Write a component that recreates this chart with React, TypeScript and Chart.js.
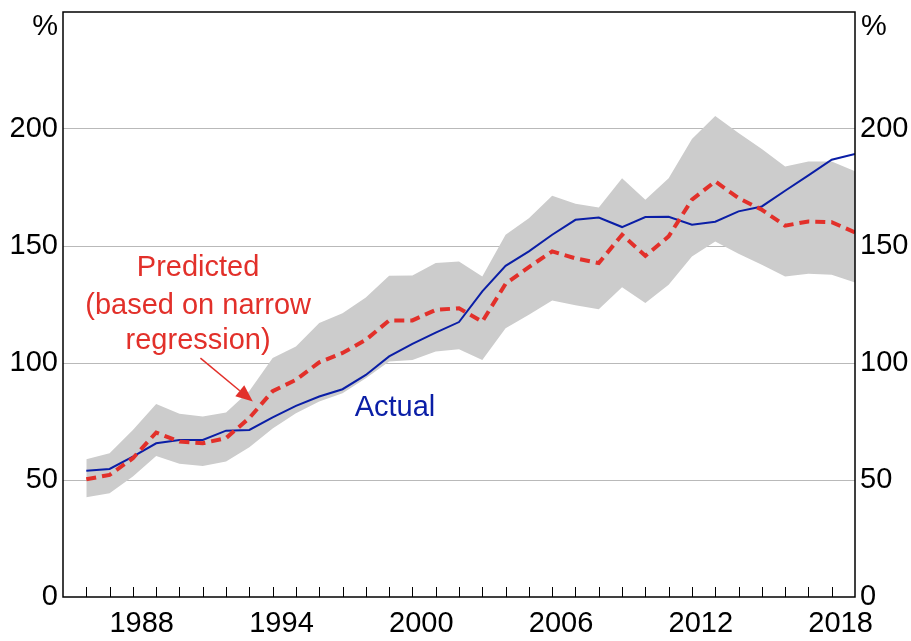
import React, { useEffect, useRef } from 'react';
import { Chart, registerables } from 'chart.js';

Chart.register(...registerables);

// End-of-year observations, 1985–2018
const years = [
  1985, 1986, 1987, 1988, 1989, 1990, 1991, 1992, 1993, 1994,
  1995, 1996, 1997, 1998, 1999, 2000, 2001, 2002, 2003, 2004,
  2005, 2006, 2007, 2008, 2009, 2010, 2011, 2012, 2013, 2014,
  2015, 2016, 2017, 2018,
];

const actual = [
  54.0, 54.7, 60.0, 65.7, 67.1, 67.1, 71.1, 71.4, 76.8, 81.7,
  85.7, 88.8, 94.9, 102.8, 108.2, 113.0, 117.5, 130.6, 141.5, 147.7,
  154.8, 161.2, 162.2, 158.1, 162.4, 162.5, 159.1, 160.4, 164.8, 166.9,
  173.6, 180.2, 186.9, 189.3,
];

const predicted = [
  50.3, 52.2, 59.3, 70.3, 66.4, 65.7, 67.9, 76.5, 88.0, 92.8,
  100.3, 104.3, 109.9, 118.2, 118.2, 122.7, 123.4, 117.7, 133.8, 141.0,
  147.7, 144.7, 142.7, 154.8, 145.8, 154.1, 169.8, 177.6, 170.5, 165.5,
  158.7, 160.5, 160.2, 155.8,
];

const bandUpper = [
  58.9, 61.4, 71.4, 82.5, 78.3, 77.1, 78.8, 88.0, 102.1, 107.0,
  117.1, 121.3, 128.0, 137.3, 137.4, 142.7, 143.4, 137.0, 154.8, 161.9,
  171.5, 168.1, 166.4, 179.0, 169.8, 179.0, 195.7, 205.6, 198.3, 191.4,
  184.0, 186.1, 186.1, 181.9,
];

const bandLower = [
  42.6, 44.3, 51.5, 60.3, 56.9, 56.0, 57.9, 64.0, 72.0, 78.5,
  83.5, 87.1, 93.5, 100.6, 101.3, 104.9, 105.9, 101.3, 114.9, 120.6,
  126.7, 124.7, 123.0, 132.4, 125.6, 133.4, 145.5, 151.9, 146.7, 142.0,
  137.0, 138.1, 137.7, 134.4,
];

const yearLabels = ['1988', '1994', '2000', '2006', '2012', '2018'];
const yMin = 0;
const yMax = 250;
const yStep = 50;
const unitLabel = '%';

const predictedNote = ['Predicted', '(based on narrow', 'regression)'];
const actualNote = 'Actual';

const FONT = '"Liberation Sans", Arial, Helvetica, sans-serif';
const FS = 29;
const RED = '#e2302a';
const BLUE = '#0a1ea6';
const BAND = '#cccccc';
const GRID = '#b9b9b9';

const toXY = (arr: number[]) => arr.map((v, i) => ({ x: years[i], y: v }));

const decorPlugin = {
  id: 'decor',
  afterDraw(chart: any) {
    const { ctx, chartArea } = chart;
    const x = chart.scales.x;
    const y = chart.scales.y;
    ctx.save();

    // inward tick marks on the x axis (year boundaries)
    ctx.strokeStyle = '#000';
    ctx.lineWidth = 1;
    for (let yr = years[0]; yr < years[years.length - 1]; yr++) {
      const px = Math.round(x.getPixelForValue(yr)) + 0.5;
      ctx.beginPath();
      ctx.moveTo(px, chartArea.bottom);
      ctx.lineTo(px, chartArea.bottom - 10);
      ctx.stroke();
    }

    // frame
    ctx.lineWidth = 1.5;
    ctx.strokeRect(chartArea.left, chartArea.top, chartArea.right - chartArea.left, chartArea.bottom - chartArea.top);

    // unit labels
    ctx.fillStyle = '#000';
    ctx.font = `${FS}px ${FONT}`;
    ctx.textBaseline = 'middle';
    ctx.textAlign = 'right';
    ctx.fillText(unitLabel, chartArea.left - 5, chartArea.top + 15);
    ctx.textAlign = 'left';
    ctx.fillText(unitLabel, chartArea.right + 6, chartArea.top + 15);

    // Predicted annotation
    ctx.fillStyle = RED;
    ctx.textAlign = 'center';
    const noteX = x.getPixelForValue(1989.8);
    const noteYs = [140.7, 124.4, 109.5];
    predictedNote.forEach((line, i) => {
      ctx.fillText(line, noteX, y.getPixelForValue(noteYs[i]));
    });

    // arrow
    const ax0 = x.getPixelForValue(1989.9);
    const ay0 = y.getPixelForValue(102.1);
    const ax1 = x.getPixelForValue(1992.15);
    const ay1 = y.getPixelForValue(83.5);
    const ang = Math.atan2(ay1 - ay0, ax1 - ax0);
    const headLen = 17;
    const headW = 7;
    const bx = ax1 - headLen * Math.cos(ang);
    const by = ay1 - headLen * Math.sin(ang);
    ctx.strokeStyle = RED;
    ctx.lineWidth = 1.5;
    ctx.beginPath();
    ctx.moveTo(ax0, ay0);
    ctx.lineTo(bx, by);
    ctx.stroke();
    ctx.beginPath();
    ctx.moveTo(ax1, ay1);
    ctx.lineTo(bx + headW * Math.sin(ang), by - headW * Math.cos(ang));
    ctx.lineTo(bx - headW * Math.sin(ang), by + headW * Math.cos(ang));
    ctx.closePath();
    ctx.fill();

    // Actual annotation
    ctx.fillStyle = BLUE;
    ctx.fillText(actualNote, x.getPixelForValue(1998.25), y.getPixelForValue(80.8));

    ctx.restore();
  },
};

const yTickCallback = (v: any) => (Number(v) === yMax ? '' : String(v));
const gridColor = (c: any) => (c.tick && (c.tick.value === yMin || c.tick.value === yMax) ? 'rgba(0,0,0,0)' : GRID);

export default function App() {
  const ref = useRef<HTMLCanvasElement | null>(null);

  useEffect(() => {
    if (!ref.current) return;
    const chart = new Chart(ref.current, {
      type: 'line',
      data: {
        datasets: [
          {
            label: 'Upper',
            data: toXY(bandUpper),
            borderWidth: 0,
            borderColor: 'rgba(0,0,0,0)',
            backgroundColor: BAND,
            pointRadius: 0,
            fill: '+1',
            order: 4,
            tension: 0,
          },
          {
            label: 'Lower',
            data: toXY(bandLower),
            borderWidth: 0,
            borderColor: 'rgba(0,0,0,0)',
            pointRadius: 0,
            fill: false,
            order: 3,
            tension: 0,
          },
          {
            label: 'Actual',
            data: toXY(actual),
            borderColor: BLUE,
            borderWidth: 2,
            pointRadius: 0,
            fill: false,
            order: 2,
            tension: 0,
          },
          {
            label: 'Predicted',
            data: toXY(predicted),
            borderColor: RED,
            borderWidth: 4,
            borderDash: [10, 6],
            pointRadius: 0,
            fill: false,
            order: 1,
            tension: 0,
          },
        ],
      },
      options: {
        animation: false,
        responsive: false,
        maintainAspectRatio: false,
        layout: { padding: { top: 12, left: 0, right: 0, bottom: 0 } },
        plugins: {
          legend: { display: false },
          tooltip: { enabled: false },
          title: { display: false },
        },
        scales: {
          x: {
            type: 'linear',
            min: years[0] - 1,
            max: years[years.length - 1],
            grid: { display: false, drawTicks: false },
            border: { display: false },
            afterBuildTicks: (scale: any) => {
              scale.ticks = yearLabels.map((l) => ({ value: Number(l) - 0.62 }));
            },
            afterFit: (scale: any) => {
              scale.height = 44;
              scale.paddingLeft = 0;
              scale.paddingRight = 0;
            },
            ticks: {
              autoSkip: false,
              maxRotation: 0,
              padding: 10,
              color: '#000',
              font: { family: FONT, size: FS },
              callback: (_v: any, i: number) => yearLabels[i],
            },
          },
          y: {
            position: 'left',
            min: yMin,
            max: yMax,
            grid: { color: gridColor, lineWidth: 1, drawTicks: false },
            border: { display: false },
            afterFit: (scale: any) => {
              scale.width = 63;
              scale.paddingTop = 0;
              scale.paddingBottom = 0;
            },
            ticks: {
              stepSize: yStep,
              padding: 5,
              color: '#000',
              font: { family: FONT, size: FS },
              callback: yTickCallback,
            },
          },
          y2: {
            position: 'right',
            min: yMin,
            max: yMax,
            grid: { display: false, drawTicks: false },
            border: { display: false },
            afterFit: (scale: any) => {
              scale.width = 56;
              scale.paddingTop = 0;
              scale.paddingBottom = 0;
            },
            ticks: {
              stepSize: yStep,
              padding: 5,
              color: '#000',
              font: { family: FONT, size: FS },
              callback: yTickCallback,
            },
          },
        },
      },
      plugins: [decorPlugin],
    });
    return () => chart.destroy();
  }, []);

  return (
    <div style={{ position: 'absolute', left: 0, top: 0, width: 911, height: 641, background: '#fff' }}>
      <canvas ref={ref} width={911} height={641} />
    </div>
  );
}
